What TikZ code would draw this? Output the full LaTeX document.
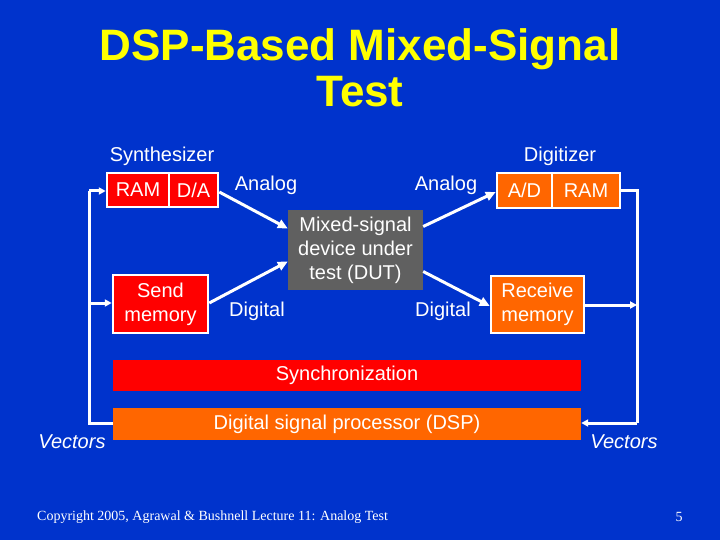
\documentclass[tikz,border=0pt]{standalone}
\usepackage{fontspec}
\setmainfont{Liberation Sans}
\newfontfamily\footfont{Liberation Serif}
\usetikzlibrary{arrows.meta,calc}
\definecolor{bgblue}{RGB}{0,51,204}
\definecolor{titleyellow}{RGB}{255,255,0}
\definecolor{boxred}{RGB}{255,0,0}
\definecolor{boxorange}{RGB}{255,102,0}
\definecolor{dutgray}{RGB}{96,96,96}
\tikzset{
  lbl/.style={text=white,font=\fontsize{20}{24}\selectfont,inner sep=0pt},
  cell/.style={draw=white,line width=2.5pt,text=white,font=\fontsize{20}{24}\selectfont,inner sep=0pt,align=center},
  redcell/.style={cell,fill=boxred},
  orangecell/.style={cell,fill=boxorange},
  bar/.style={text=white,font=\fontsize{20}{24}\selectfont,inner sep=0pt,minimum width=468pt},
  wire/.style={white,line width=3pt},
  arr/.style={white,line width=3pt,-{Triangle[length=10pt,width=9pt]}},
  farr/.style={white,line width=3pt,-{Triangle[length=7pt,width=7pt]}},
}
\begin{document}
\begin{tikzpicture}[x=1pt,y=-1pt]
\fill[bgblue] (0,0) rectangle (720,540);
\useasboundingbox (0,0) rectangle (720,540);
% title
\node[text=titleyellow,font=\fontsize{44}{46}\selectfont\bfseries,align=center,inner sep=0pt] (title) at (360,68) {DSP-Based Mixed-Signal\\Test};
% labels
\node[lbl] (synth) at (162,156) {Synthesizer};
\node[lbl] (digit) at (560,156) {Digitizer};
% synthesizer boxes
\node[redcell,minimum width=62pt,minimum height=34pt] (ram) at (138,190) {RAM};
\node[redcell,minimum width=49pt,minimum height=34pt] (da) at (193.5,190) {D/A};
\node[redcell,minimum width=95pt,minimum height=58pt] (send) at (160.5,304) {Send\\memory};
% digitizer boxes
\node[orangecell,minimum width=55pt,minimum height=35pt] (ad) at (524.5,190.5) {A/D};
\node[orangecell,minimum width=68pt,minimum height=35pt] (ram2) at (586,190.5) {RAM};
\node[orangecell,minimum width=93pt,minimum height=57pt] (recv) at (537.5,304.5) {Receive\\memory};
% DUT
\node[fill=dutgray,text=white,font=\fontsize{20}{24}\selectfont,align=center,inner sep=0pt,minimum width=135pt,minimum height=79pt] (dut) at (355.5,250) {Mixed-signal\\device under\\test (DUT)};
% bars
\node[bar,fill=boxred,minimum height=31pt] (sync) at (347,375.5) {Synchronization};
\node[bar,fill=boxorange,minimum height=32pt] (dsp) at (347,424) {Digital signal processor (DSP)};
% signal labels
\node[lbl] (an1) at (266,185) {Analog};
\node[lbl] (an2) at (446,185) {Analog};
\node[lbl] (dg1) at (257,311) {Digital};
\node[lbl] (dg2) at (443,311) {Digital};
\node[lbl,font=\fontsize{20}{24}\selectfont\itshape] (vec1) at (72,442) {Vectors};
\node[lbl,font=\fontsize{20}{24}\selectfont\itshape] (vec2) at (624,442) {Vectors};
% signal arrows
\draw[arr] ($(da.east)+(0,2)$) -- ($(dut.west)+(0,-21.5)$);
\draw[arr] ($(send.east)+(0,-1)$) -- ($(dut.west)+(0,11.5)$);
\draw[arr] ($(dut.east)+(0,-23.5)$) -- ($(ad.west)+(0,1.5)$);
\draw[arr] ($(dut.east)+(0,21.5)$) -- ($(recv.west)+(0,1.5)$);
% feedback
\coordinate (lb) at (89,423);
\coordinate (lt) at (89,191);
\coordinate (lm) at (89,303);
\draw[wire] ($(dsp.west)+(0,-1)$) -- (lb) -- (lt);
\draw[farr] (lt) -- (ram.west |- lt);
\draw[farr] (lm) -- (send.west |- lm);
\coordinate (rt) at (637,190.5);
\coordinate (rb) at (637,423);
\coordinate (rm) at (637,305);
\draw[wire] (ram2.east) -- (rt) -- (rb);
\draw[farr] (rb) -- (dsp.east |- rb);
\draw[farr] ($(recv.east)+(0,0.5)$) -- (rm);
% footer
\node[text=white,font=\footfont\fontsize{14}{16}\selectfont,anchor=west,inner sep=0pt] (copy) at (37,517) {Copyright 2005, Agrawal \& Bushnell Lecture 11: Analog Test};
\node[text=white,font=\footfont\fontsize{14}{16}\selectfont,inner sep=0pt] (page) at (679,517) {5};
\end{tikzpicture}
\end{document}
